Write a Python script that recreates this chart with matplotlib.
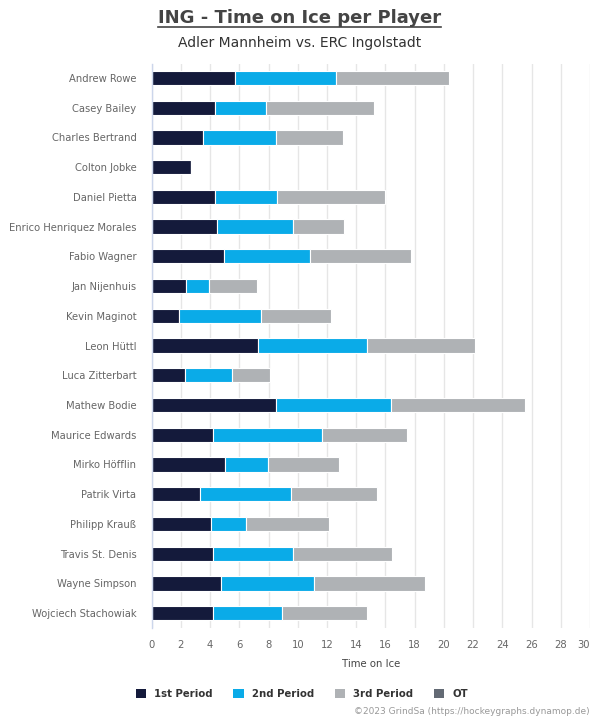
import matplotlib
matplotlib.use("Agg")
import matplotlib.pyplot as plt
from matplotlib.patches import Patch
import numpy as np

players = ["Andrew Rowe", "Casey Bailey", "Charles Bertrand", "Colton Jobke", "Daniel Pietta",
           "Enrico Henriquez Morales", "Fabio Wagner", "Jan Nijenhuis", "Kevin Maginot",
           "Leon Hüttl", "Luca Zitterbart", "Mathew Bodie", "Maurice Edwards", "Mirko Höfflin",
           "Patrik Virta", "Philipp Krauß", "Travis St. Denis", "Wayne Simpson", "Wojciech Stachowiak"]

# cumulative end positions (minutes)
end_p1 = [5.71, 4.34, 3.52, 2.69, 4.34, 4.48, 4.96, 2.35, 1.87, 7.28, 2.28, 8.52, 4.20, 5.03, 3.32, 4.07, 4.20, 4.75, 4.20]
end_p2 = [12.63, 7.83, 8.52, 2.69, 8.59, 9.69, 10.86, 3.93, 7.49, 14.75, 5.50, 16.40, 11.66, 7.98, 9.56, 6.47, 9.69, 11.14, 8.93]
end_p3 = [20.38, 15.24, 13.11, 2.69, 15.99, 13.18, 17.78, 7.22, 12.29, 22.15, 8.11, 25.57, 17.49, 12.85, 15.45, 12.16, 16.47, 18.74, 14.75]

p1 = np.array(end_p1)
p2 = np.array(end_p2) - np.array(end_p1)
p3 = np.array(end_p3) - np.array(end_p2)
ot = np.zeros(len(players))

series_names = ["1st Period", "2nd Period", "3rd Period", "OT"]
colors = ["#141a3b", "#0aabe8", "#afb2b5", "#636a74"]
x_ticks = list(range(0, 31, 2))

fig = plt.figure(figsize=(6, 7.2), dpi=100)
ax = fig.add_axes([0.2528, 0.1278, 0.9833 - 0.2528, 0.9111 - 0.1278])

y = np.arange(len(players))
h = 0.48
left = np.zeros(len(players))
for vals, c in zip([p1, p2, p3], colors[:3]):
    ax.barh(y, vals, left=left, height=h, color=c, edgecolor="white", linewidth=0.8, zorder=3)
    left = left + vals
ax.barh(y, ot, left=left, height=h, color=colors[3], edgecolor="none", zorder=3)

ax.set_ylim(len(players) - 0.5, -0.47)
ax.set_xlim(0, 30)
ax.set_xticks(x_ticks)
ax.set_yticks(y)
ax.set_yticklabels(players)
ax.tick_params(axis="y", length=0, pad=11, labelsize=7.2, labelcolor="#666666")
ax.tick_params(axis="x", length=0, pad=9, labelsize=7.2, labelcolor="#666666")
ax.get_xticklabels()[-1].set_ha("right")
ax.grid(axis="x", color="#e6e6e6", linewidth=1, zorder=0)
for s in ["top", "right", "bottom"]:
    ax.spines[s].set_visible(False)
ax.spines["left"].set_color("#ccd6eb")
ax.spines["left"].set_linewidth(1)
ax.spines["left"].set_zorder(4)
ax.set_xlabel("Time on Ice", fontsize=7.3, color="#444444", labelpad=6)

fig.text(0.5, 0.975, "ING - Time on Ice per Player", ha="center", va="center",
         fontsize=13, fontweight="bold", color="#444444")
# underline
fig.add_artist(plt.Line2D([158 / 600, 441 / 600], [1 - 27 / 720, 1 - 27 / 720],
                          color="#444444", linewidth=1.2))
fig.text(0.5, 1 - 43 / 720, "Adler Mannheim vs. ERC Ingolstadt", ha="center", va="center",
         fontsize=10, color="#333333")

handles = [Patch(facecolor=c, edgecolor="none") for c in colors]
leg = fig.legend(handles, series_names, loc="center", bbox_to_anchor=(0.503, 1 - 694 / 720),
                 ncol=4, frameon=False, handlelength=1.05, handleheight=1.05,
                 handletextpad=0.8, columnspacing=2.0, fontsize=7.3)
for t in leg.get_texts():
    t.set_fontweight("bold")
    t.set_color("#333333")

fig.text(0.983, 1 - 712 / 720, "©2023 GrindSa (https://hockeygraphs.dynamop.de)",
         ha="right", va="center", fontsize=6.5, color="#999999")

fig.savefig("out.png", dpi=100)
